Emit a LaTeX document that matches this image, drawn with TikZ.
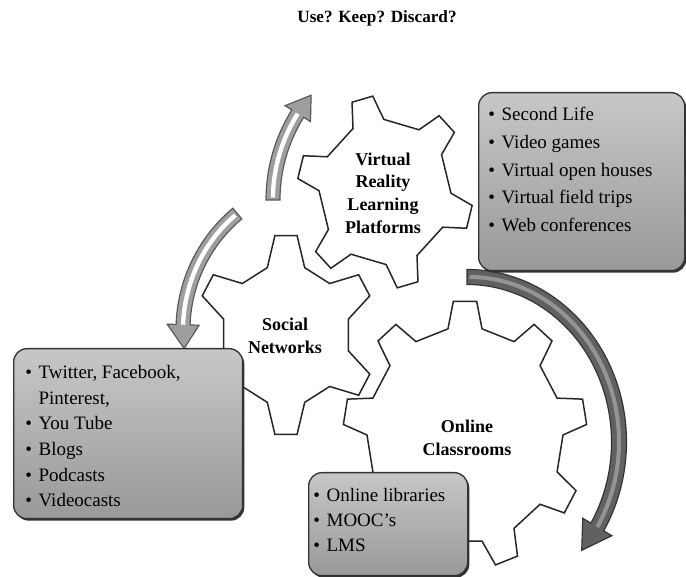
\documentclass[tikz,border=0pt]{standalone}
\usepackage{fontspec}
\setmainfont{Liberation Serif}
\usetikzlibrary{positioning,shadows}
\def\gearstretch{1.1}

% gear: center, teeth, offset, inner r, outer r, top half angle, base half angle
\newcommand{\cog}[7]{%
  \begin{scope}[shift={(#1)}, yscale=\gearstretch]
    \pgfmathsetmacro\cogstep{360/#2}
    \path[gear] (#3-#7:#4) \foreach \k in {1,...,#2} {
        -- ({#3+(\k-1)*\cogstep-#7}:#4) -- ({#3+(\k-1)*\cogstep-#6}:#5)
        -- ({#3+(\k-1)*\cogstep+#6}:#5) -- ({#3+(\k-1)*\cogstep+#7}:#4)} -- cycle;
  \end{scope}}

% curved block arrow: [style]{center}{rx}{ry}{start}{head}{tip}{half shaft}{half head}
\newcommand{\bentarrow}[9][bent]{%
  \begin{scope}[shift={(#2)}]
    \pgfmathsetmacro\rxo{#3+#8}\pgfmathsetmacro\ryo{#4+#8}
    \pgfmathsetmacro\rxi{#3-#8}\pgfmathsetmacro\ryi{#4-#8}
    \pgfmathsetmacro\rxh{#3+#9}\pgfmathsetmacro\ryh{#4+#9}
    \pgfmathsetmacro\rxj{#3-#9}\pgfmathsetmacro\ryj{#4-#9}
    \path[#1] (#5:\rxo\space and \ryo)
        arc[start angle=#5, end angle=#6, x radius=\rxo, y radius=\ryo]
        -- (#6:\rxh\space and \ryh) -- (#7:#3 and #4) -- (#6:\rxj\space and \ryj)
        -- (#6:\rxi\space and \ryi)
        arc[start angle=#6, end angle=#5, x radius=\rxi, y radius=\ryi] -- cycle;
    \path[#1 stripe] (#5:#3 and #4) arc[start angle=#5, end angle=#6, x radius=#3, y radius=#4];
  \end{scope}}

\begin{document}
\begin{tikzpicture}[x=0.6pt,y=0.6pt]
    \tikzstyle{gear}=[draw=black!85, fill=white, line width=0.9pt]
    \tikzstyle{bent}=[draw=black!65, fill=black!38, line width=0.7pt]
    \tikzstyle{bent stripe}=[draw=white, line width=2.6pt, shorten <=1.5pt]
    \tikzstyle{dark bent}=[draw=black!80, fill=black!62, line width=0.7pt]
    \tikzstyle{dark bent stripe}=[draw=black!42, line width=2.4pt, shorten <=1.5pt]
    \tikzstyle{listbox}=[anchor=north west, draw=black!80, line width=0.8pt, rounded corners=8pt,
        top color=black!22, bottom color=black!40,
        drop shadow={shadow xshift=1pt, shadow yshift=-1.2pt, fill=black!80, opacity=1}]
    \tikzstyle{listtext}=[align=left, inner sep=0pt]
    \tikzstyle{gearlabel}=[align=center, font=\fontsize{10.8}{13.6}\selectfont\bfseries]

    \useasboundingbox (0,0) rectangle (686,577);

    % Title
    \node[font=\fontsize{10.3}{12}\selectfont\bfseries] (title) at (377,559) {Use? Keep? Discard?};

    % Draw the gears
    \coordinate (socialc) at (286,242);
    \coordinate (vrc) at (385,385);
    \coordinate (onlinec) at (465,142);
    \cog{socialc}{6}{90}{64}{91}{7}{17}
    \cog{vrc}{6}{-15}{66}{88}{7}{14}
    \cog{onlinec}{9}{90}{98}{122}{5.5}{10}

    % Curved arrows
    \coordinate (upc) at (436,377);
    \coordinate (downc) at (335,247);
    \coordinate (roundc) at (467,135);
    \bentarrow[bent]{upc}{163}{163}{180}{148}{140}{7}{15}
    \bentarrow[bent]{downc}{152}{152}{130}{178}{187}{7}{16}
    \bentarrow[dark bent]{roundc}{152}{165}{90}{-31}{-41}{7.5}{17}

    % Lists
    \node[listbox, minimum width=123.6pt, minimum height=106.8pt] (vrbox) at (478,485) {};
    \node[listtext, below right=9pt and 6pt of vrbox.north west,
        font=\fontsize{11.4}{16.6}\selectfont] (vrlist)
        {\textbullet\hspace{4pt}Second Life\\
         \textbullet\hspace{4pt}Video games\\
         \textbullet\hspace{4pt}Virtual open houses\\
         \textbullet\hspace{4pt}Virtual field trips\\
         \textbullet\hspace{4pt}Web conferences};

    \node[listbox, minimum width=137.4pt, minimum height=102pt] (socialbox) at (13,229) {};
    \node[listtext, below right=10.2pt and 7.2pt of socialbox.north west,
        font=\fontsize{11.4}{15.4}\selectfont] (sociallist)
        {\textbullet\hspace{4pt}Twitter, Facebook,\\
         \phantom{\textbullet}\hspace{4pt}Pinterest,\\
         \textbullet\hspace{4pt}You Tube\\
         \textbullet\hspace{4pt}Blogs\\
         \textbullet\hspace{4pt}Podcasts\\
         \textbullet\hspace{4pt}Videocasts};

    \node[listbox, minimum width=95.4pt, minimum height=61.8pt] (onlinebox) at (308,105) {};
    \node[listtext, below right=9.6pt and 3pt of onlinebox.north west,
        font=\fontsize{11.4}{15}\selectfont] (onlinelist)
        {\textbullet\hspace{4pt}Online libraries\\
         \textbullet\hspace{4pt}MOOC's\\
         \textbullet\hspace{4pt}LMS};

    % Gear labels
    \node[gearlabel] (vrlabel) at (383,384) {Virtual\\Reality\\Learning\\Platforms};
    \node[gearlabel] (sociallabel) at (285,241) {Social\\Networks};
    \node[gearlabel] (onlinelabel) at (467,139) {Online\\Classrooms};
\end{tikzpicture}
\end{document}
